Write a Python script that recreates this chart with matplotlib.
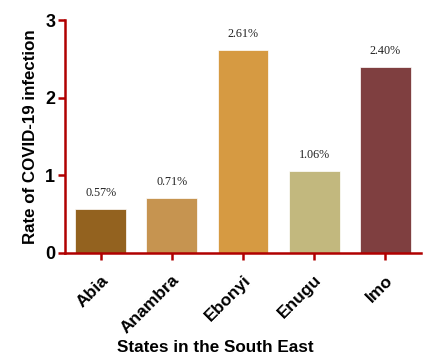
import matplotlib
matplotlib.use("Agg")
import matplotlib.pyplot as plt

states = ["Abia", "Anambra", "Ebonyi", "Enugu", "Imo"]
rates = [0.57, 0.71, 2.61, 1.06, 2.40]
labels = ["0.57%", "0.71%", "2.61%", "1.06%", "2.40%"]
colors = ["#93621F", "#C69450", "#D69A42", "#C2B87E", "#7F3F40"]
yticks = [0, 1, 2, 3]

spine_c = "#B00000"

fig = plt.figure(figsize=(4.41, 3.58), dpi=100)
ax = fig.add_axes([0.1474, 0.2933, 0.8072, 0.6507])

x = list(range(len(states)))
bars = ax.bar(x, rates, width=0.715, color=colors, edgecolor="white", linewidth=0.5)
for xi, v, lab in zip(x, rates, labels):
    ax.text(xi, v + 0.13, lab, ha="center", va="bottom",
            family="Liberation Serif", fontsize=8.7, color="#222222")

ax.set_xlim(-0.5, 4.5)
ax.set_ylim(0, 3)
ax.set_yticks(yticks)
ax.set_yticklabels([str(t) for t in yticks], fontsize=13, fontweight="bold",
                   family="Liberation Sans")
ax.set_xticks(x)
ax.set_xticklabels(states, rotation=45, ha="right", rotation_mode="anchor",
                   fontsize=12.5, fontweight="bold", family="Liberation Sans")

for s in ["top", "right"]:
    ax.spines[s].set_visible(False)
for s in ["left", "bottom"]:
    ax.spines[s].set_color(spine_c)
    ax.spines[s].set_linewidth(1.8)
ax.tick_params(axis="both", color=spine_c, width=1.8, length=5, pad=2)
ax.tick_params(axis="x", pad=9)

ax.set_ylabel("Rate of COVID-19 infection", fontsize=12.2, fontweight="bold",
              family="Liberation Sans", labelpad=5)
fig.text(215 / 441, 1 - 347 / 358, "States in the South East", fontsize=12.3,
         fontweight="bold", family="Liberation Sans", ha="center", va="center")

fig.savefig("out.png", dpi=100)
